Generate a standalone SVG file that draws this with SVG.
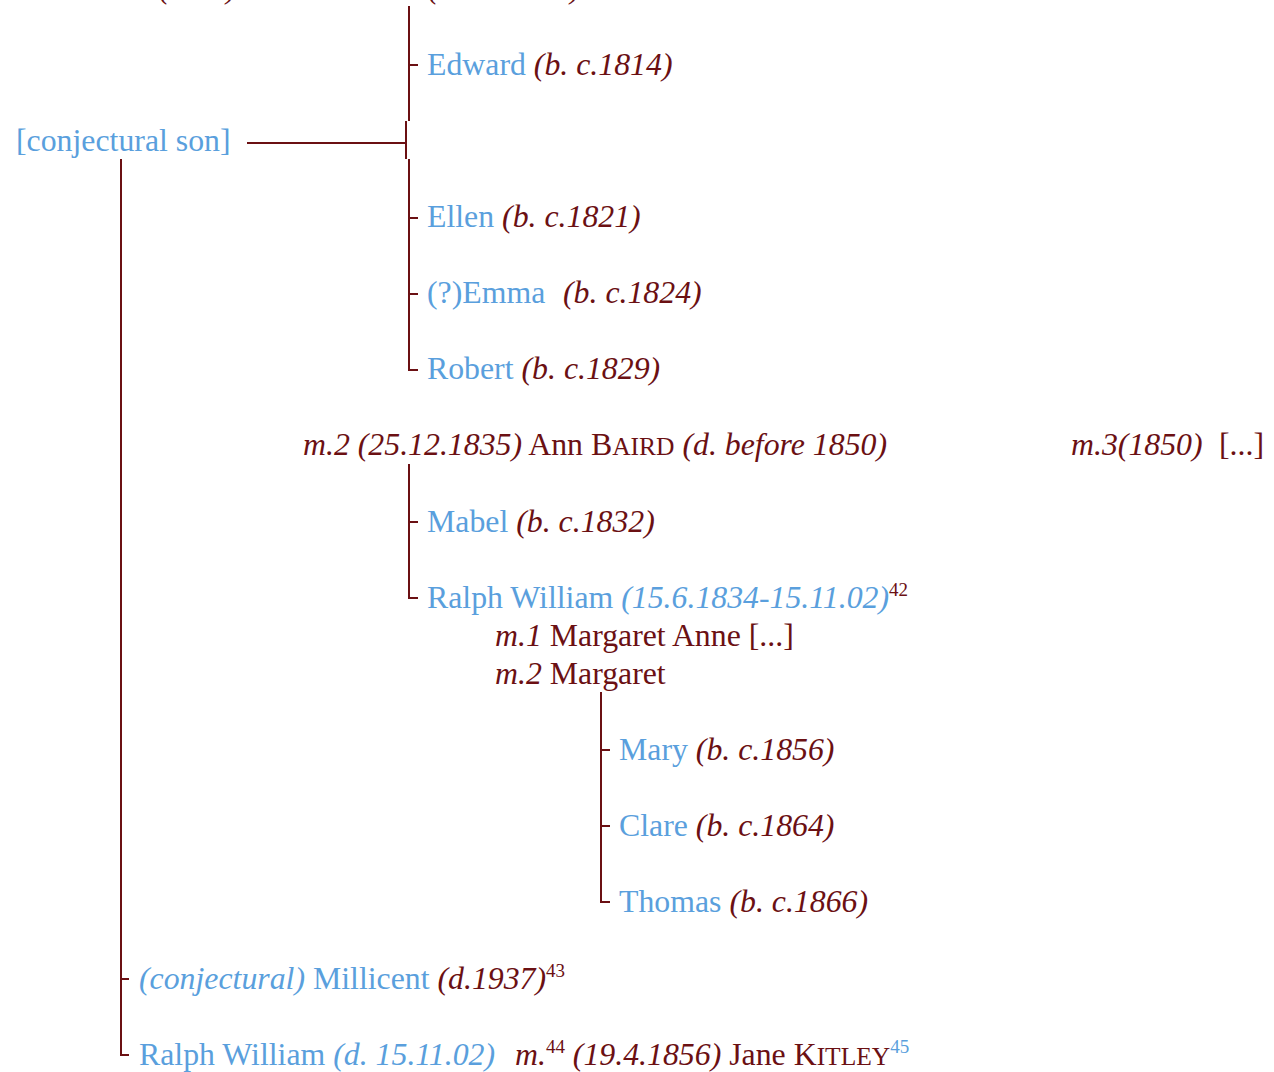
<svg xmlns="http://www.w3.org/2000/svg" width="1274" height="1072" viewBox="0 0 1274 1072">
<style>
text{font-family:"Liberation Serif","Times New Roman",serif;font-size:31.8px;fill:#6b1013;}
.b{fill:#5a9fdd;}
.i{font-style:italic;}
.sc{font-size:25.5px;}
.sup{font-size:19px;}
.ln{stroke:#6b1013;stroke-width:2;fill:none;}
</style>
<rect width="1274" height="1072" fill="#fff"/>
<g id="connectors">
<path class="ln" d="M409,6 V121 M406,121 V159 M247,143 H406 M409,159 V370 H418 M409,65 H418 M409,218 H418 M409,294 H418"/>
<path class="ln" d="M121,159 V1055 H129 M121,979 H129"/>
<path class="ln" d="M409,464 V598 H418 M409,522 H418"/>
<path class="ln" d="M601,692 V902 H610 M601,750 H610 M601,826 H610"/>
</g>
<g id="top-cut">
<text class="i" x="159" y="-2">(</text><text class="i" x="226" y="-2">)</text>
<text class="i" x="428" y="-2">(</text><text class="i" x="570" y="-2">)</text>
</g>
<g id="conjectural-son"><text x="16" y="151" class="b">[conjectural son]</text></g>
<g id="edward"><text x="427" y="75"><tspan class="b">Edward</tspan> <tspan class="i">(b. c.1814)</tspan></text></g>
<g id="ellen"><text x="427" y="227"><tspan class="b">Ellen</tspan> <tspan class="i">(b. c.1821)</tspan></text></g>
<g id="emma"><text x="427" y="303"><tspan class="b">(?)Emma</tspan><tspan class="i" x="563">(b. c.1824)</tspan></text></g>
<g id="robert"><text x="427" y="379"><tspan class="b">Robert</tspan> <tspan class="i">(b. c.1829)</tspan></text></g>
<g id="marriage2"><text x="303" y="455"><tspan class="i">m.2 (25.12.1835)</tspan> Ann B<tspan class="sc">AIRD</tspan> <tspan class="i">(d. before 1850)</tspan></text></g>
<g id="marriage3"><text x="1071" y="455"><tspan class="i">m.3(1850)</tspan><tspan x="1219">[...]</tspan></text></g>
<g id="mabel"><text x="427" y="532"><tspan class="b">Mabel</tspan> <tspan class="i">(b. c.1832)</tspan></text></g>
<g id="ralph-william-1"><text x="427" y="608"><tspan class="b">Ralph William</tspan> <tspan class="b i">(15.6.1834-15.11.02)</tspan><tspan class="sup" dy="-12">42</tspan></text></g>
<g id="ralph-marriages">
<text x="495" y="646"><tspan class="i">m.1</tspan> Margaret Anne [...]</text>
<text x="495" y="684"><tspan class="i">m.2</tspan> Margaret</text>
</g>
<g id="mary"><text x="619" y="760"><tspan class="b">Mary</tspan> <tspan class="i">(b. c.1856)</tspan></text></g>
<g id="clare"><text x="619" y="836"><tspan class="b">Clare</tspan> <tspan class="i">(b. c.1864)</tspan></text></g>
<g id="thomas"><text x="619" y="912"><tspan class="b">Thomas</tspan> <tspan class="i">(b. c.1866)</tspan></text></g>
<g id="millicent"><text x="139" y="989"><tspan class="b i">(conjectural)</tspan><tspan class="b"> Millicent</tspan> <tspan class="i">(d.1937)</tspan><tspan class="sup" dy="-12">43</tspan></text></g>
<g id="ralph-william-2"><text x="139" y="1065"><tspan class="b">Ralph William</tspan> <tspan class="b i">(d. 15.11.02)</tspan><tspan class="i" x="515">m.</tspan><tspan class="sup" dy="-12">44</tspan><tspan class="i" dy="12"> (19.4.1856)</tspan> Jane K<tspan class="sc">ITLEY</tspan><tspan class="sup b" dy="-12">45</tspan></text></g>
</svg>
